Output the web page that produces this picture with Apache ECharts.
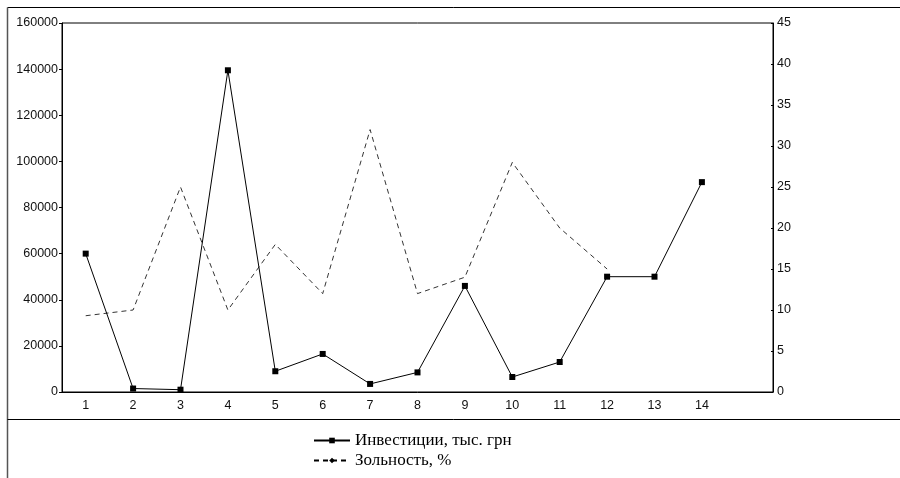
<!DOCTYPE html>
<html><head><meta charset="utf-8">
<script src="https://cdn.jsdelivr.net/npm/echarts@6/dist/echarts.min.js"></script>
<style>html,body{margin:0;padding:0;background:#fff}#c{width:900px;height:478px}</style>
</head><body><div id="c"></div>
<script>
const categories = ['1','2','3','4','5','6','7','8','9','10','11','12','13','14',''];
const investments = [60000,1500,1000,139500,9000,16500,3500,8500,46000,6500,13000,50000,50000,91000];
const ashContent = [9.3,10,25,10,18,12,32,12,14,28,20,15];
const seriesNames = ['Инвестиции, тыс. грн','Зольность, %'];

const chart = echarts.init(document.getElementById('c'));
const axisLabel = {color:'#111', fontFamily:'Liberation Sans, Arial', fontSize:12.5, formatter:v=>String(v)};
chart.setOption({
  animation:false,
  backgroundColor:'#fff',
  grid:{left:62, right:127, top:23, bottom:86, show:true, borderColor:'#000', borderWidth:1},
  legend:{
    orient:'vertical', left:308, top:427, itemGap:3, itemWidth:36, itemHeight:7,
    textStyle:{fontFamily:'Liberation Serif, Times New Roman', fontSize:17, color:'#000'},
    data:seriesNames
  },
  xAxis:{
    type:'category', data:categories, boundaryGap:true,
    axisLine:{lineStyle:{color:'#000', width:1}},
    axisTick:{length:4, lineStyle:{color:'#000'}},
    axisLabel:Object.assign({}, axisLabel, {margin:7, formatter:null})
  },
  yAxis:[
    {type:'value', min:0, max:160000, interval:20000, splitLine:{show:false},
     axisLine:{show:true, lineStyle:{color:'#000'}}, axisTick:{show:true, length:3, lineStyle:{color:'#000'}},
     axisLabel:Object.assign({margin:4}, axisLabel)},
    {type:'value', min:0, max:45, interval:5, position:'right', splitLine:{show:false},
     axisLine:{show:true, lineStyle:{color:'#000'}}, axisTick:{show:true, inside:true, length:2, lineStyle:{color:'#000'}},
     axisLabel:Object.assign({margin:4}, axisLabel)}
  ],
  graphic:[
    {type:'line', shape:{x1:7.5,y1:7.5,x2:900,y2:7.5}, style:{stroke:'#000', lineWidth:1}},
    {type:'line', shape:{x1:7.5,y1:7.5,x2:7.5,y2:478}, style:{stroke:'#555', lineWidth:1.5}},
    {type:'line', shape:{x1:7.5,y1:419.5,x2:900,y2:419.5}, style:{stroke:'#000', lineWidth:1}}
  ],
  series:[
    {name:seriesNames[0], type:'line', yAxisIndex:0, data:investments,
     symbol:'rect', symbolSize:6, itemStyle:{color:'#000'},
     lineStyle:{color:'#000', width:1}},
    {name:seriesNames[1], type:'line', yAxisIndex:1, data:ashContent,
     symbol:'diamond', symbolSize:5, showSymbol:false, itemStyle:{color:'#000'},
     lineStyle:{color:'#000', width:0.8, type:[5,4]}}
  ]
});
</script></body></html>
